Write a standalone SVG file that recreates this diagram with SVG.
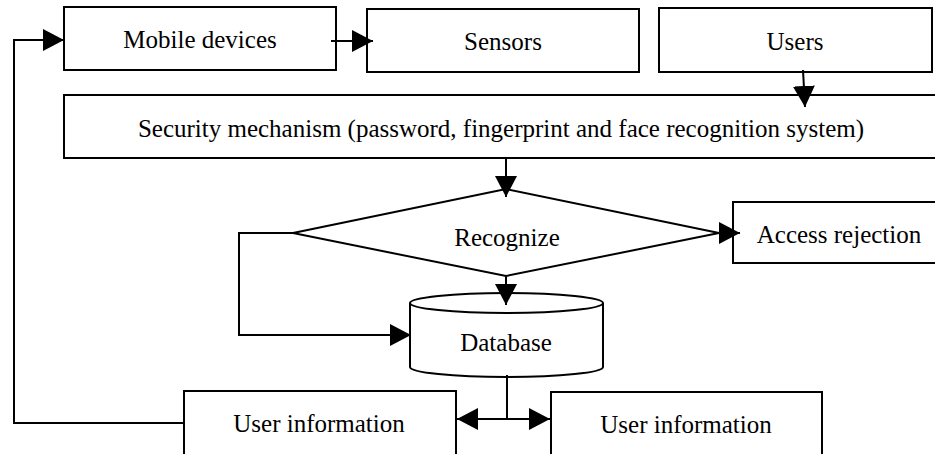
<svg xmlns="http://www.w3.org/2000/svg" width="935" height="454" viewBox="0 0 935 454">
<defs>
<style>
.box{fill:#fff;stroke:#000;stroke-width:2}
.ln{fill:none;stroke:#000;stroke-width:2}
.t{font-family:"Liberation Serif","Times New Roman",serif;font-size:25px;fill:#000;text-anchor:middle}
</style>
<marker id="ah" markerUnits="userSpaceOnUse" markerWidth="21" markerHeight="22" refX="21" refY="11" orient="auto" viewBox="0 0 21 22">
<path d="M0,0 L21,11 L0,22 Z" fill="#000"/>
</marker>
</defs>
<rect width="935" height="454" fill="#fff"/>
<g id="mobile"><rect class="box" x="64" y="7" width="272" height="63"/><text class="t" x="200" y="48">Mobile devices</text></g>
<g id="sensors"><rect class="box" x="367" y="9" width="272" height="63"/><text class="t" x="503" y="50">Sensors</text></g>
<g id="users"><rect class="box" x="659" y="8" width="273" height="64"/><text class="t" x="795" y="50">Users</text></g>
<g id="security"><rect class="box" x="64" y="95" width="880" height="63"/><text class="t" x="501" y="137">Security mechanism (password, fingerprint and face recognition system)</text></g>
<g id="recognize"><polygon class="box" points="293,233 506,189 719,233 506,276"/><text class="t" x="507" y="246">Recognize</text></g>
<g id="access"><rect class="box" x="733" y="202" width="210" height="61"/><text class="t" x="839" y="243">Access rejection</text></g>
<g id="database"><path class="box" d="M410,303 A96.5,10 0 0 1 603,303 L603,367 A96.5,10 0 0 1 410,367 Z"/><path class="ln" d="M410,303 A96.5,10 0 0 0 603,303"/><text class="t" x="506" y="351">Database</text></g>
<g id="userinfo1"><rect class="box" x="184" y="391" width="272" height="70"/><text class="t" x="319" y="432">User information</text></g>
<g id="userinfo2"><rect class="box" x="551" y="392" width="271" height="70"/><text class="t" x="686" y="433">User information</text></g>
<g id="connectors">
<line class="ln" x1="331" y1="41" x2="373" y2="41" marker-end="url(#ah)"/>
<polyline class="ln" points="184,423 14,423 14,40 64,40" marker-end="url(#ah)"/>
<line class="ln" x1="803" y1="70" x2="805" y2="107" marker-end="url(#ah)"/>
<line class="ln" x1="506" y1="158" x2="506" y2="197" marker-end="url(#ah)"/>
<line class="ln" x1="716" y1="233" x2="740" y2="233" marker-end="url(#ah)"/>
<line class="ln" x1="506" y1="276" x2="506" y2="305" marker-end="url(#ah)"/>
<polyline class="ln" points="293,233 239,233 239,335 411,335" marker-end="url(#ah)"/>
<line class="ln" x1="507" y1="375" x2="507" y2="419"/>
<line class="ln" x1="508" y1="419" x2="457" y2="419" marker-end="url(#ah)"/>
<line class="ln" x1="506" y1="419" x2="550" y2="419" marker-end="url(#ah)"/>
</g>
</svg>
